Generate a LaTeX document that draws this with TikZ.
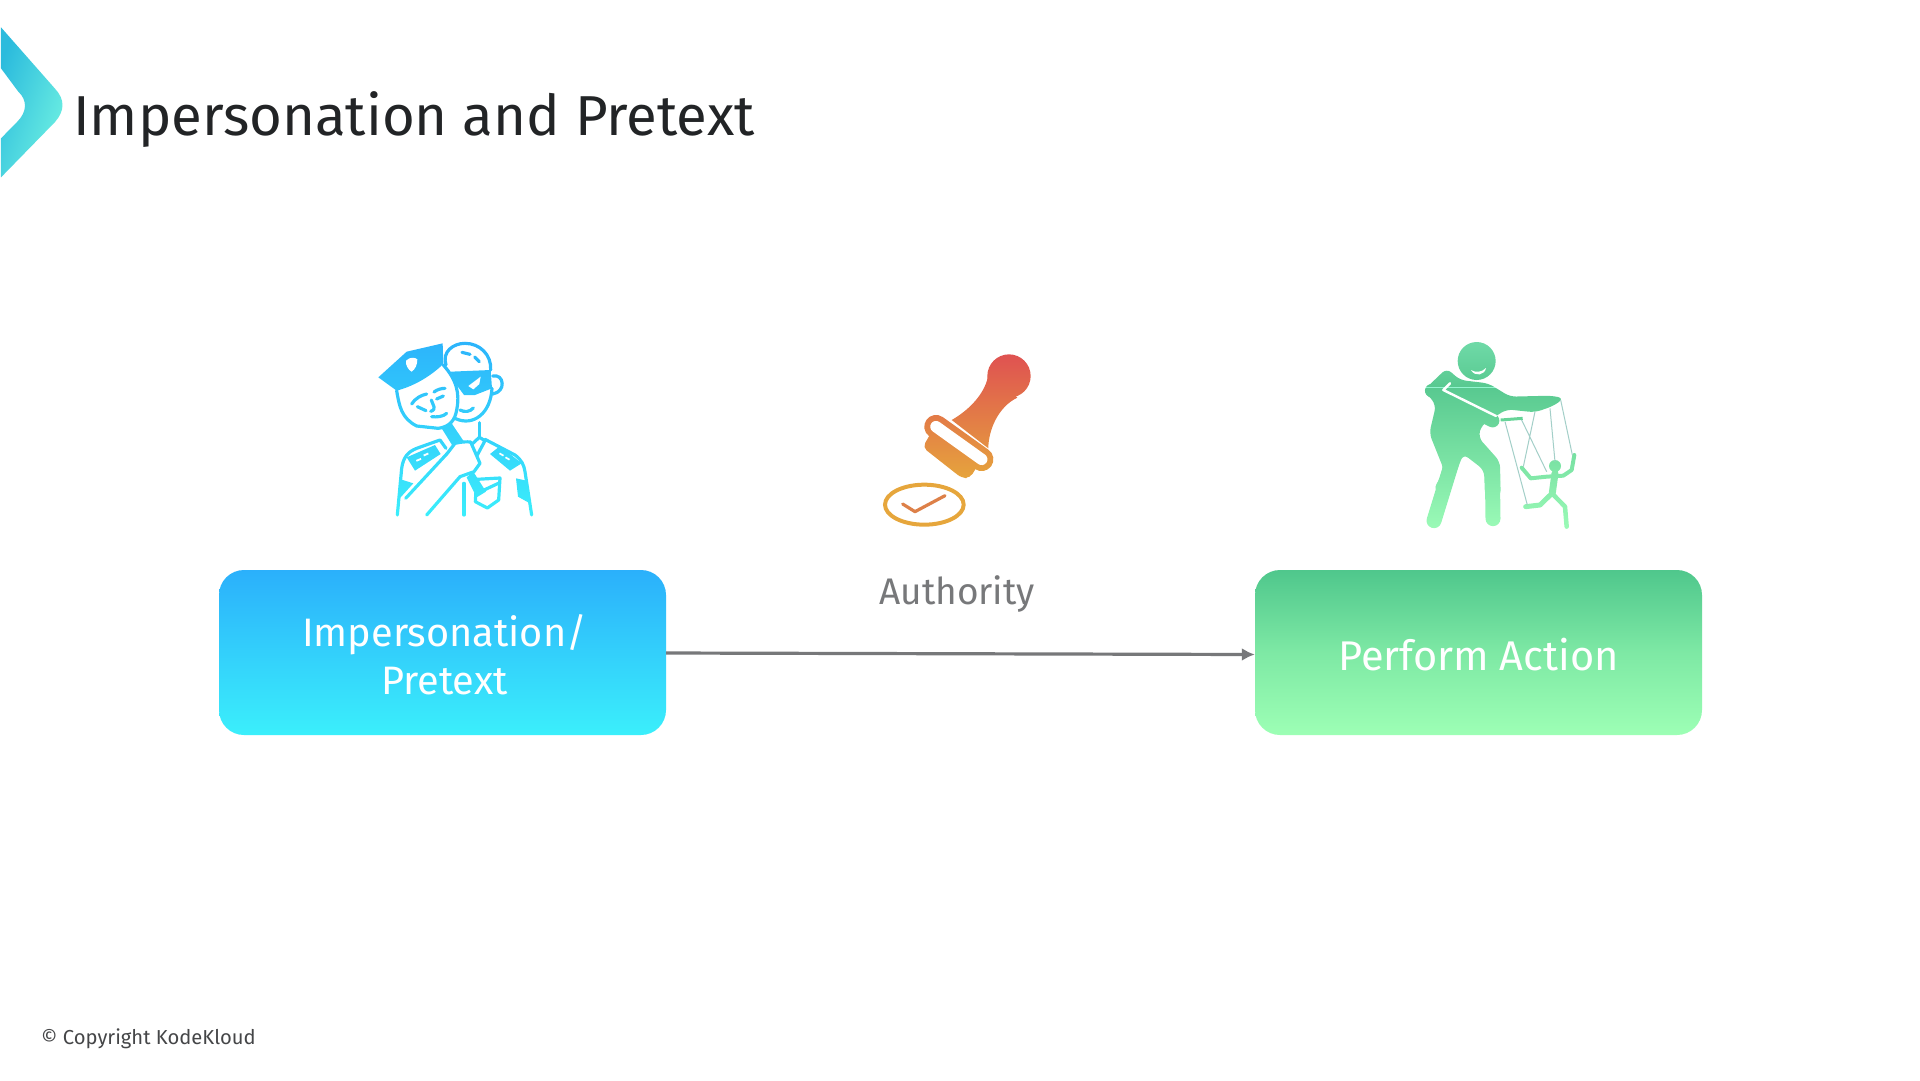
\documentclass[tikz,border=0pt]{standalone}
\usepackage{fontspec}
\setmainfont{Fira Sans}
\usetikzlibrary{calc,arrows.meta}
\definecolor{titleink}{HTML}{222426}
\definecolor{grayink}{HTML}{77787A}
\definecolor{footink}{HTML}{454648}
\definecolor{bluetop}{HTML}{2BB0FB}
\definecolor{bluebot}{HTML}{3BEFFB}
\definecolor{greentop}{HTML}{4FC78C}
\definecolor{greenbot}{HTML}{9DFFB5}
\definecolor{logoa}{HTML}{2BBBDD}
\definecolor{logob}{HTML}{70F2E2}
\definecolor{stampa}{HTML}{DF4F52}
\definecolor{stampb}{HTML}{E6A63C}
\definecolor{stampcheck}{HTML}{DD8048}
\definecolor{pupa}{HTML}{72DCAB}
\definecolor{pupm}{HTML}{58C990}
\definecolor{pupb}{HTML}{9DFCB8}
\definecolor{pupstring}{HTML}{A3CFC8}
\tikzset{
  zoomed/.style n args={2}{shift={(#1,#2)},x=0.33333pt,y=-0.33333pt},
  boxnode/.style={minimum width=447pt,minimum height=165pt,rounded corners=25pt,inner sep=0pt,text=white,align=center},
  boxtext/.style={text=white,align=center,inner sep=0pt},
  icon/.style={line width=3.2pt,line cap=round,line join=round},
  limb/.style={line cap=round,line join=round},
  thinstring/.style={line width=1pt,draw=pupstring},
}
\begin{document}
\begin{tikzpicture}[x=1pt,y=-1pt]
\useasboundingbox (0,0) rectangle (1920,1080);
\fill[white] (0,0) rectangle (1920,1080);

% logo chevron
\begin{scope}[zoomed={0}{10}]
\shade[left color=logoa,right color=logob,shading angle=70]
 (3,52) -- (165,236) .. controls (195,268) and (195,302) .. (165,336) -- (3,502) -- (3,385) -- (52,335)
 .. controls (82,305) and (82,270) .. (55,245) -- (3,175) -- cycle;
\end{scope}
\node[anchor=base west,inner sep=0pt,text=titleink,font=\fontsize{56.3}{60}\selectfont] (title) at (73,135) {Impersonation and Pretext};

% police icon
\begin{scope}[zoomed={360}{320}]
 % back head
 \draw[icon] (258,135) .. controls (245,95) and (280,70) .. (315,70) .. controls (360,70) and (395,105) .. (392,150);
 \draw[icon] (306,97) -- (330,103) (344,111) -- (358,125);
 \fill[black] (272,155) -- (392,150) -- (396,205) -- (345,225) -- (312,225) -- (290,195) -- cycle;
 \fill[white] (325,198) -- (362,170) -- (358,192) -- (340,208) -- cycle;
 \draw[icon] (398,168) .. controls (432,160) and (440,215) .. (398,222);
 \draw[icon] (396,205) .. controls (392,280) and (340,320) .. (287,296);
 \draw[icon] (300,270) .. controls (315,278) and (330,275) .. (340,264);
 \draw[icon] (358,308) -- (358,352);
 % mask
 \draw[icon,fill=white] (110,212) .. controls (118,260) and (125,295) .. (170,318) -- (235,325) .. controls (270,320) and (285,300) .. (290,270) .. controls (300,220) and (290,180) .. (250,135);
 \fill[black] (55,172) -- (140,95) -- (248,70) -- (250,132) .. controls (205,175) and (155,200) .. (110,212) -- cycle;
 \fill[white] (138,122) .. controls (150,110) and (165,112) .. (172,118) .. controls (172,135) and (165,148) .. (155,155) .. controls (145,150) and (136,135) .. (138,122) -- cycle;
 \draw[icon] (155,252) .. controls (165,235) and (185,225) .. (200,222);
 \draw[icon] (222,216) .. controls (232,208) and (245,205) .. (255,205);
 \draw[icon] (172,260) -- (198,272) (230,237) -- (250,228);
 \draw[icon] (214,240) .. controls (218,255) and (232,268) .. (212,274);
 \draw[icon] (215,290) .. controls (230,292) and (250,290) .. (260,280);
 % handle
 \fill[black] (245,325) -- (275,310) -- (312,365) -- (278,378) -- cycle;
 % shoulders
 \draw[icon] (112,585) -- (125,445) .. controls (130,410) and (145,395) .. (170,385) -- (240,360) -- (258,385);
 \draw[icon] (375,358) -- (465,405) .. controls (485,420) and (492,435) .. (495,455) -- (515,585);
 \fill[black] (140,412) -- (225,375) -- (242,402) -- (165,452) -- cycle;
 \fill[white] (168,420) -- (182,414) -- (184,419) -- (170,425) -- cycle (190,404) -- (204,398) -- (206,403) -- (192,409) -- cycle;
 \fill[black] (390,402) -- (420,378) -- (485,430) -- (450,452) -- cycle;
 \fill[white] (420,398) -- (432,405) -- (429,409) -- (417,402) -- cycle (438,410) -- (450,417) -- (447,421) -- (435,414) -- cycle;
 \fill[black] (122,478) -- (160,490) -- (122,532) -- (116,530) -- cycle;
 \fill[black] (468,475) -- (500,482) -- (506,548) -- (474,530) -- cycle;
 % collar
 \draw[icon] (330,378) -- (358,352) -- (375,362) -- (345,418);
 % pocket + tie
 \draw[icon] (350,478) -- (420,474) -- (416,540) -- (382,564) -- (346,545) -- cycle;
 \fill[black] (340,455) -- (378,515) -- (350,532) -- (320,472) -- cycle;
 \draw[icon] (368,512) -- (415,490);
 % hand
 \draw[icon,fill=white] (137,535) -- (262,400) -- (285,370) .. controls (305,365) and (320,365) .. (332,366) -- (360,430) -- (342,455) -- (300,470) -- (200,585);
 \draw[icon] (312,490) -- (312,585);
 \begin{scope}[blend mode=screen]
  \shade[top color=bluetop,bottom color=bluebot] (0,30) rectangle (600,600);
 \end{scope}
\end{scope}

% stamp icon
\begin{scope}[zoomed={860}{330}]
 \fill[black] (447,138) circle (65);
 \fill[black] (385,125) .. controls (385,170) and (345,230) .. (275,270) -- (385,355) .. controls (385,300) and (415,230) .. (472,203) -- cycle;
 \fill[black,rounded corners=5pt] (215,305) -- (188,352) -- (305,444) -- (330,444) -- (360,395) -- cycle;
 \draw[black,line width=23.5pt,line cap=round] (228,290) -- (365,388);
 \draw[white,line width=11.5pt,line cap=round] (228,290) -- (365,388);
 \draw[black,line width=4pt] (193,524) ellipse (118 and 60);
 \begin{scope}[blend mode=screen]
  \shade[top color=stampa,bottom color=stampb] (60,60) rectangle (530,453);
  \fill[stampb] (60,453) rectangle (530,600);
 \end{scope}
 \draw[stampcheck,line width=3.2pt,line cap=round,line join=round] (128,522) -- (165,545) -- (255,497);
\end{scope}

% puppeteer icon
\begin{scope}[zoomed={1410}{330}]
 \fill[black] (200,93) circle (57);
 \fill[white] (183,120) .. controls (195,128) and (215,128) .. (228,114) .. controls (225,135) and (195,142) .. (183,120) -- cycle;
 \fill[black,rounded corners=6pt] (110,115) -- (150,150) -- (235,160) -- (300,200) -- (425,197) -- (462,205) -- (430,228) -- (375,247) -- (290,238) -- (258,258) -- (215,285) -- (205,322) -- (270,395) -- (272,500)
   -- (225,500) -- (222,420) -- (160,372) -- (110,500) -- (70,480) -- (102,420) -- (58,310) -- (78,225) -- (42,180) -- cycle;
 \draw[black,line width=15pt,limb] (125,400) -- (72,572);
 \draw[black,line width=15pt,limb] (247,420) -- (249,566);
 \draw[black,line width=13.5pt,limb] (65,182) -- (248,272);
 \draw[white,line width=2.4pt,limb] (120,160) -- (100,180) -- (258,258);
 \draw[black,line width=3pt] (272,270) -- (338,265);
 \fill[black] (435,408) circle (18);
 \draw[black,line width=4pt,limb] (335,413) -- (362,445) -- (410,440) -- (460,437) -- (485,420) -- (493,375);
 \draw[black,line width=7pt,limb] (435,430) -- (427,488);
 \draw[black,line width=5pt,limb] (426,490) -- (390,525) -- (347,530);
 \draw[black,line width=4.5pt,limb] (426,490) -- (465,530) -- (470,590);
 \begin{scope}[blend mode=screen]
  \shade[top color=pupa,bottom color=pupm] (10,15) rectangle (530,171);
  \shade[top color=pupm,bottom color=pupb] (10,171) rectangle (530,610);
 \end{scope}
 \draw[thinstring] (285,275) -- (352,525) (335,270) -- (410,425) (375,245) -- (340,410) (420,235) -- (435,395) (452,210) -- (487,375);
\end{scope}

% boxes
\node[boxnode,top color=bluetop,bottom color=bluebot] (pretext) at (442.5,652.5) {};
\node[boxnode,top color=greentop,bottom color=greenbot,middle color=greentop!40!greenbot] (action) at (1478.5,652.5) {};
\node[boxtext,font=\fontsize{39.7}{48}\selectfont] (pretextlabel) at (444.5,655) {Impersonation/\\Pretext};
\node[boxtext,font=\fontsize{41.5}{48}\selectfont] (actionlabel) at (1478.5,655) {Perform Action};

% connector
\coordinate (arrowstart) at ([yshift=-0.5pt]pretext.east);
\coordinate (arrowend) at ([yshift=-2pt]action.west);
\draw[draw=grayink,line width=3.2pt,-{Latex[length=13pt,width=13pt]}] (arrowstart) -- (arrowend);

% labels
\node[text=grayink,font=\fontsize{37}{44}\selectfont,inner sep=0pt] (authority) at (957,593.5) {Authority};
\node[anchor=west,text=footink,font=\fontsize{20.2}{24}\selectfont,inner sep=0pt] (copyright) at (41,1038.5) {© Copyright KodeKloud};
\end{tikzpicture}
\end{document}
